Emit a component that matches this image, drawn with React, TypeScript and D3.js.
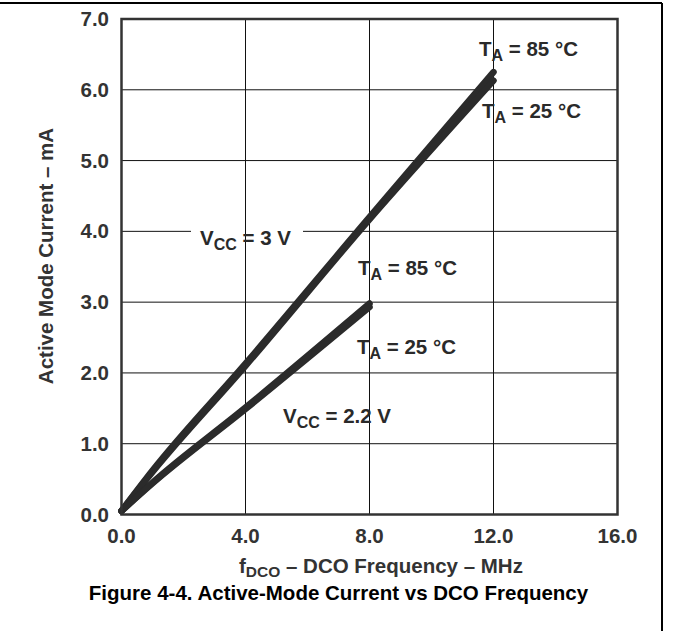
import React from "react";
import * as d3 from "d3";

const xTicks = [0, 4, 8, 12, 16];
const yTicks = [0, 1, 2, 3, 4, 5, 6, 7];

const freq3V = [0, 1, 4, 8, 12];
const i3V85 = [0.05, 0.62, 2.13, 4.2, 6.25];
const i3V25 = [0.05, 0.6, 2.1, 4.17, 6.13];

const freq22V = [0, 1, 4, 8];
const i22V85 = [0.05, 0.45, 1.51, 2.98];
const i22V25 = [0.05, 0.44, 1.49, 2.93];

const W = 673;
const H = 631;
const FONT = "'Liberation Sans', Arial, Helvetica, sans-serif";

const x = d3.scaleLinear().domain([0, 16]).range([121.5, 617.5]);
const y = d3.scaleLinear().domain([0, 7]).range([514.5, 19]);

const line = d3
  .line<[number, number]>()
  .x((d) => x(d[0]))
  .y((d) => y(d[1]))
  .curve(d3.curveMonotoneX);

const zip = (a: number[], b: number[]) => a.map((v, i) => [v, b[i]] as [number, number]);

function Sub({ x0, y0, main, sub, rest }: { x0: number; y0: number; main: string; sub: string; rest: string }) {
  return (
    <text x={x0} y={y0} fontFamily={FONT} fontWeight="bold" fontSize={20.5} fill="#2a2a2a">
      {main}
      <tspan dy={5} fontSize={16}>{sub}</tspan>
      <tspan dy={-5}>{rest}</tspan>
    </text>
  );
}

export default function App() {
  const fmt = d3.format(".1f");
  const series = [
    zip(freq3V, i3V85),
    zip(freq3V, i3V25),
    zip(freq22V, i22V85),
    zip(freq22V, i22V25),
  ];
  const [x0, x1] = x.range();
  const [y0, y1] = y.range();
  return (
    <svg
      width={W}
      height={H}
      viewBox={`0 0 ${W} ${H}`}
      style={{ position: "absolute", left: 0, top: 0, background: "#fff" }}
    >
      <rect x={0} y={0} width={W} height={H} fill="#fff" />
      {/* outer frame */}
      <line x1={0} y1={3} x2={662} y2={3} stroke="#000" strokeWidth={2} />
      <line x1={662} y1={3} x2={662} y2={H} stroke="#000" strokeWidth={2} />

      {/* horizontal grid */}
      {yTicks.slice(1, -1).map((t) => (
        <line key={"h" + t} x1={x0} x2={x1} y1={y(t)} y2={y(t)} stroke="#111" strokeWidth={1} />
      ))}
      {/* gap behind Vcc = 3 V label */}
      <rect x={191} y={y(4) - 4} width={112} height={8} fill="#fff" />
      {/* vertical grid */}
      {xTicks.slice(1, -1).map((t) => (
        <line key={"v" + t} x1={x(t)} x2={x(t)} y1={y1} y2={y0} stroke="#111" strokeWidth={1} />
      ))}

      {/* curves */}
      {series.map((s, i) => (
        <path
          key={i}
          d={line(s) || ""}
          fill="none"
          stroke="#2b2b2b"
          strokeWidth={6.5}
          strokeLinecap="round"
          strokeLinejoin="round"
        />
      ))}

      {/* plot border */}
      <rect x={x0} y={y1} width={x1 - x0} height={y0 - y1} fill="none" stroke="#333" strokeWidth={2.5} />

      {/* y tick labels */}
      {yTicks.map((t) => (
        <text
          key={"yl" + t}
          x={109}
          y={y(t) + 7}
          textAnchor="end"
          fontFamily={FONT}
          fontWeight="bold"
          fontSize={20.5}
          fill="#333"
        >
          {fmt(t)}
        </text>
      ))}
      {/* x tick labels */}
      {xTicks.map((t) => (
        <text
          key={"xl" + t}
          x={x(t)}
          y={542.5}
          textAnchor="middle"
          fontFamily={FONT}
          fontWeight="bold"
          fontSize={20.5}
          fill="#333"
        >
          {fmt(t)}
        </text>
      ))}

      {/* axis titles */}
      <text x={239} y={573} fontFamily={FONT} fontWeight="bold" fontSize={20.5} fill="#333">
        f<tspan dy={3.5} fontSize={15.5}>DCO</tspan>
        <tspan dy={-3.5}> – DCO Frequency – MHz</tspan>
      </text>
      <text
        transform={`translate(53,256) rotate(-90)`}
        textAnchor="middle"
        fontFamily={FONT}
        fontWeight="bold"
        fontSize={20.5}
        fill="#333"
      >
        Active Mode Current – mA
      </text>
      <text x={338.5} y={600} textAnchor="middle" fontFamily={FONT} fontWeight="bold" fontSize={20.5} fill="#000">
        Figure 4-4. Active-Mode Current vs DCO Frequency
      </text>

      {/* annotations */}
      <Sub x0={200} y0={245} main="V" sub="CC" rest=" = 3 V" />
      <Sub x0={283} y0={423} main="V" sub="CC" rest=" = 2.2 V" />
      <Sub x0={358} y0={275} main="T" sub="A" rest=" = 85 °C" />
      <Sub x0={357} y0={354} main="T" sub="A" rest=" = 25 °C" />
      <Sub x0={479} y0={56} main="T" sub="A" rest=" = 85 °C" />
      <Sub x0={482} y0={118} main="T" sub="A" rest=" = 25 °C" />
    </svg>
  );
}
